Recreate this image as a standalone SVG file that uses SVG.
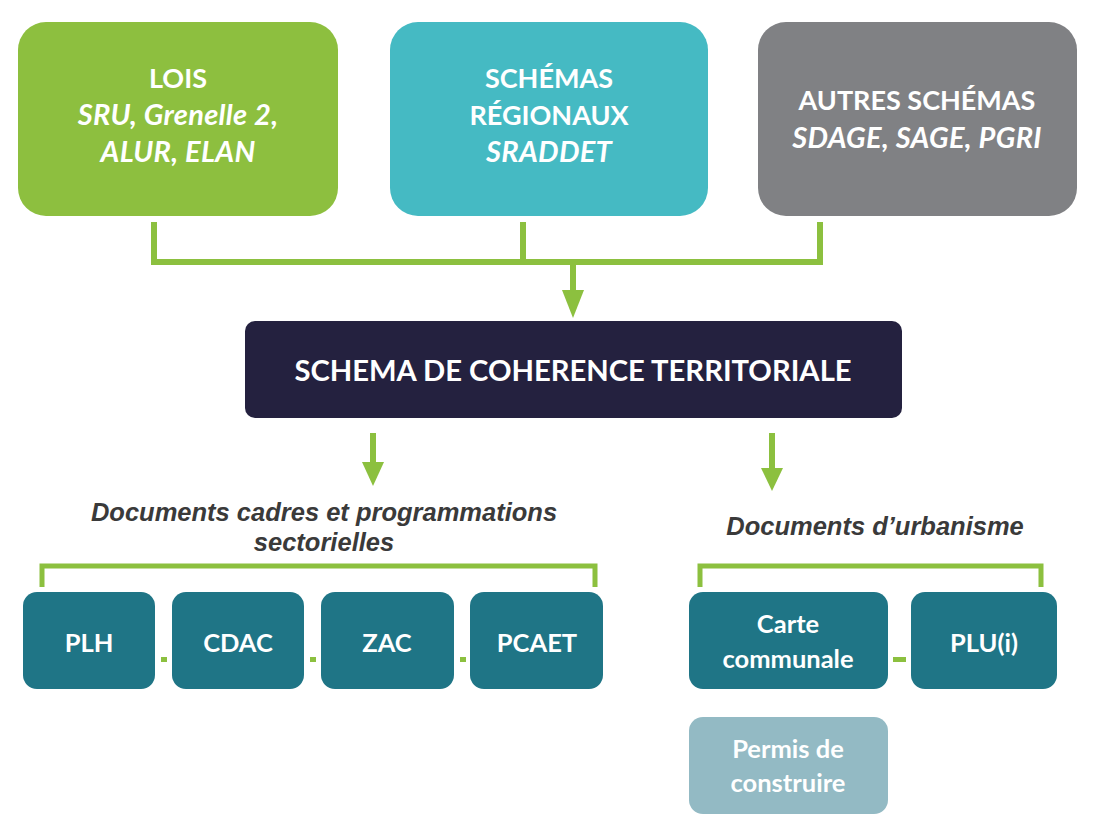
<svg xmlns="http://www.w3.org/2000/svg" width="1101" height="832" viewBox="0 0 1101 832">
  <style>
    .big { font-family: Lato, "Open Sans", sans-serif; font-weight: bold; fill: #ffffff; text-anchor: middle; font-size: 27px; }
    .it { font-style: italic; font-size: 29px; letter-spacing: 0.3px; }
    .small { font-family: Lato, "Open Sans", sans-serif; font-weight: bold; fill: #ffffff; text-anchor: middle; font-size: 25.5px; }
    .cap { font-family: "Liberation Sans", Arial, sans-serif; font-weight: bold; font-style: italic; fill: #3a3a3a; text-anchor: middle; font-size: 25.5px; }
    .ln { fill: none; stroke: #8cc03f; stroke-width: 6; }
    .br { fill: none; stroke: #8cc03f; stroke-width: 5; }
    .dash { fill: #8cc03f; }
    .doc { fill: #1f7586; }
    .head { fill: #8cc03f; }
  </style>
  <rect width="1101" height="832" fill="#ffffff"/>

  <g id="connectors">
    <polyline class="ln" points="154,222 154,262 820,262 820,222"/>
    <line class="ln" x1="523" y1="222" x2="523" y2="262"/>
    <path d="M573,262 V292" class="ln"/>
    <path class="head" d="M562,290 L584,290 L573,318 Z"/>
    <path d="M373,433 V464" class="ln"/>
    <path class="head" d="M362,462 L384,462 L373,486 Z"/>
    <path d="M772,433 V470" class="ln"/>
    <path class="head" d="M761,468 L783,468 L772,491 Z"/>
    <polyline class="br" points="42,587 42,566 595,566 595,587"/>
    <polyline class="br" points="700,587 700,566 1041,566 1041,587"/>
    <rect class="dash" x="161" y="657" width="6" height="5"/>
    <rect class="dash" x="310" y="657" width="6" height="5"/>
    <rect class="dash" x="460" y="657" width="6" height="5"/>
    <rect class="dash" x="893" y="657" width="13" height="5"/>
  </g>

  <g id="lois">
    <rect x="18" y="22" width="320" height="194" rx="28" fill="#8dbf3f"/>
    <text class="big" x="178" y="88">LOIS</text>
    <text class="big it" x="178" y="125">SRU, Grenelle 2,</text>
    <text class="big it" x="178" y="162">ALUR, ELAN</text>
  </g>
  <g id="schemas-regionaux">
    <rect x="390" y="22" width="318" height="194" rx="28" fill="#45bac3"/>
    <text class="big" x="549" y="88">SCHÉMAS</text>
    <text class="big" x="549" y="125">RÉGIONAUX</text>
    <text class="big it" x="549" y="162">SRADDET</text>
  </g>
  <g id="autres-schemas">
    <rect x="758" y="22" width="319" height="194" rx="28" fill="#808184"/>
    <text class="big" x="917" y="110">AUTRES SCHÉMAS</text>
    <text class="big it" x="917" y="148">SDAGE, SAGE, PGRI</text>
  </g>
  <g id="scot">
    <rect x="245" y="321" width="657" height="97" rx="10" fill="#24213f"/>
    <text class="big" x="573" y="381" style="font-size:29.2px">SCHEMA DE COHERENCE TERRITORIALE</text>
  </g>

  <g id="label-cadres">
    <text class="cap" x="324" y="521">Documents cadres et programmations</text>
    <text class="cap" x="324" y="551">sectorielles</text>
  </g>
  <g id="label-urbanisme">
    <text class="cap" x="875" y="535">Documents d’urbanisme</text>
  </g>

  <g id="plh">
    <rect class="doc" x="23" y="592" width="132" height="97" rx="14"/>
    <text class="small" x="89" y="652">PLH</text>
  </g>
  <g id="cdac">
    <rect class="doc" x="172" y="592" width="132" height="97" rx="14"/>
    <text class="small" x="238" y="652">CDAC</text>
  </g>
  <g id="zac">
    <rect class="doc" x="321" y="592" width="133" height="97" rx="14"/>
    <text class="small" x="387" y="652">ZAC</text>
  </g>
  <g id="pcaet">
    <rect class="doc" x="470" y="592" width="133" height="97" rx="14"/>
    <text class="small" x="537" y="652">PCAET</text>
  </g>
  <g id="carte-communale">
    <rect class="doc" x="689" y="592" width="199" height="97" rx="14"/>
    <text class="small" x="788" y="633">Carte</text>
    <text class="small" x="788" y="668">communale</text>
  </g>
  <g id="plui">
    <rect class="doc" x="911" y="592" width="146" height="97" rx="14"/>
    <text class="small" x="984" y="652">PLU(i)</text>
  </g>
  <g id="permis">
    <rect x="689" y="717" width="199" height="97" rx="14" fill="#93bac4"/>
    <text class="small" x="788" y="758">Permis de</text>
    <text class="small" x="788" y="792">construire</text>
  </g>
</svg>
